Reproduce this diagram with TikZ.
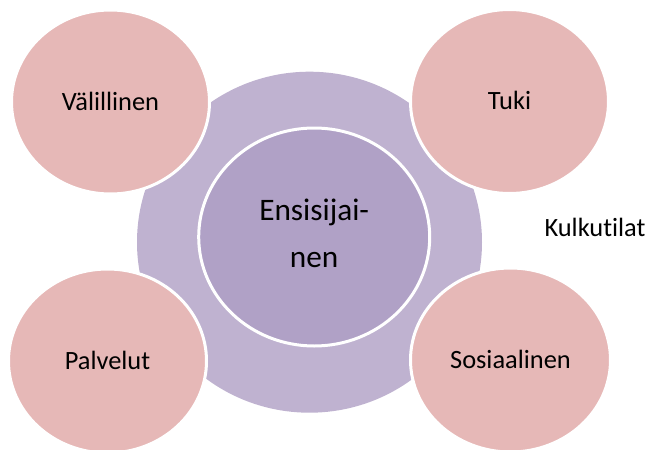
\documentclass[tikz,border=0pt]{standalone}
\usepackage{fontspec}
\setmainfont{Carlito}[Ligatures=NoCommon]
\usetikzlibrary{shapes.geometric}

\definecolor{petal}{HTML}{E6B8B7}
\definecolor{ringfill}{HTML}{BFB2D0}
\definecolor{corefill}{HTML}{B0A1C6}

\tikzset{
  petaldisc/.style={ellipse, fill=petal, draw=white, line width=3pt,
    inner sep=0pt, minimum width=198pt, minimum height=184pt,
    font=\fontsize{26.4}{32}\selectfont, text height=16pt, text depth=0pt},
  ringdisc/.style={ellipse, fill=ringfill, inner sep=0pt,
    minimum width=345pt, minimum height=341pt},
  coredisc/.style={ellipse, fill=corefill, draw=white, line width=3pt,
    inner sep=0pt, minimum width=231pt, minimum height=218pt,
    align=center, font=\fontsize{31.3}{46.6}\selectfont,
    text height=60.6pt, text depth=0pt},
  plainlabel/.style={inner sep=0pt, anchor=base,
    font=\fontsize{26.4}{32}\selectfont}
}

\begin{document}
\begin{tikzpicture}[x=1pt, y=-1pt]
  \useasboundingbox (0,0) rectangle (649,450);

  % outer ring and central disc
  \node[ringdisc] (ring) at (309.5,242.2) {};
  \node[coredisc] (core) at (314.2,237) {Ensisijai-\\nen};

  % four surrounding discs
  \node[petaldisc] (valillinen) at (110.5,102) {Välillinen};
  \node[petaldisc] (tuki) at (509.5,101.5) {Tuki};
  \node[petaldisc] (palvelut) at (107.5,361) {Palvelut};
  \node[petaldisc, minimum width=200pt] (sosiaalinen) at (510.5,360) {Sosiaalinen};

  % free-standing caption
  \node[plainlabel] (kulkutilat) at (595,236) {Kulkutilat};
\end{tikzpicture}
\end{document}
